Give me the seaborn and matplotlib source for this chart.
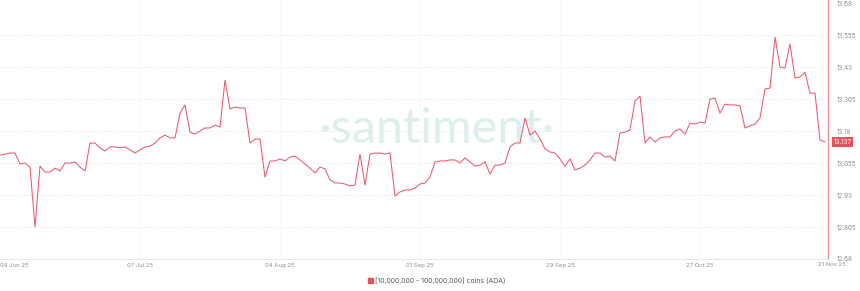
import matplotlib
matplotlib.use("Agg")
import matplotlib.pyplot as plt
import seaborn as sns
import pandas as pd

# ---- data ----
start_date = "2025-06-09"
values = [
    13.086, 13.090, 13.094, 13.094, 13.051, 13.055, 13.039, 12.805, 13.043, 13.020,
    13.020, 13.035, 13.024, 13.055, 13.055, 13.059, 13.039, 13.024, 13.133, 13.133,
    13.114, 13.102, 13.118, 13.118, 13.114, 13.118, 13.106, 13.094, 13.106, 13.118,
    13.121, 13.133, 13.153, 13.164, 13.153, 13.153, 13.250, 13.282, 13.176, 13.168,
    13.180, 13.192, 13.192, 13.203, 13.196, 13.379, 13.266, 13.274, 13.270, 13.270,
    13.133, 13.149, 13.149, 13.000, 13.063, 13.063, 13.071, 13.063, 13.078, 13.082,
    13.067, 13.051, 13.035, 13.016, 13.039, 13.032, 12.989, 12.977, 12.977, 12.973,
    12.965, 12.969, 13.090, 12.969, 13.090, 13.094, 13.094, 13.090, 13.094, 12.926,
    12.942, 12.950, 12.950, 12.957, 12.973, 12.977, 13.000, 13.059, 13.063, 13.063,
    13.067, 13.067, 13.055, 13.075, 13.059, 13.043, 13.047, 13.059, 13.012, 13.047,
    13.047, 13.055, 13.118, 13.133, 13.133, 13.231, 13.164, 13.180, 13.149, 13.110,
    13.098, 13.094, 13.071, 13.043, 13.071, 13.028, 13.035, 13.047, 13.067, 13.094,
    13.094, 13.078, 13.082, 13.063, 13.172, 13.176, 13.184, 13.297, 13.317, 13.133,
    13.157, 13.137, 13.153, 13.157, 13.157, 13.180, 13.188, 13.168, 13.211, 13.207,
    13.215, 13.211, 13.305, 13.309, 13.250, 13.285, 13.282, 13.282, 13.278, 13.192,
    13.200, 13.207, 13.231, 13.344, 13.348, 13.547, 13.430, 13.426, 13.520, 13.387,
    13.391, 13.410, 13.328, 13.328, 13.145, 13.137,
]
ytick_values = [12.68, 12.805, 12.93, 13.055, 13.18, 13.305, 13.43, 13.555, 13.68]
ytick_labels = ["12.68", "12.805", "12.93", "13.055", "13.18", "13.305", "13.43", "13.555", "13.68"]
xtick_dates = ["2025-06-09", "2025-07-07", "2025-08-04", "2025-09-01", "2025-09-29", "2025-10-27"]
xtick_labels = ["09 Jun 25", "07 Jul 25", "04 Aug 25", "01 Sep 25", "29 Sep 25", "27 Oct 25"]
end_label = "21 Nov 25"
series_label = "[10,000,000 - 100,000,000] coins (ADA)"
current_label = "13.137"

dates = pd.date_range(start_date, periods=len(values), freq="D")
df = pd.DataFrame({"date": dates, "value": values})

LINE = "#ea5a70"
GRID = "#e6e9ec"
TXT = "#8a9099"

sns.set_theme(style="white")
plt.rcParams["font.family"] = ["Inter", "DejaVu Sans"]

fig = plt.figure(figsize=(8.6, 2.91), dpi=100)
ax = fig.add_axes([0.0, 0.11, 828 / 860, 0.89])

# watermark
ax.text(0.527, 0.50, "\u00b7santiment\u00b7", transform=ax.transAxes, fontsize=35,
        color="#dcefec", ha="center", va="center", fontweight="normal", zorder=0,
        family=["Lato", "DejaVu Sans"])

sns.lineplot(data=df, x="date", y="value", ax=ax, color=LINE, linewidth=0.75)

x0 = dates[0]
ax.set_xlim(x0, x0 + pd.Timedelta(days=165.6))
ax.set_ylim(12.68, 13.692)

ax.set_yticks(ytick_values)
ax.set_yticklabels(ytick_labels)
ax.yaxis.tick_right()
ax.tick_params(axis="y", labelsize=4.5, colors=TXT, length=0, pad=6)

xt = [pd.Timestamp(d) for d in xtick_dates]
ax.set_xticks(xt)
ax.set_xticklabels(xtick_labels)
ax.tick_params(axis="x", labelsize=4.3, colors=TXT, length=0, pad=3)
ax.get_xticklabels()[0].set_horizontalalignment("left")

ax.set_xlabel("")
ax.set_ylabel("")

for y in ytick_values[1:-1]:
    ax.axhline(y, color=GRID, linewidth=0.6, linestyle=(0, (2, 2)), zorder=0)
for d in xt[1:]:
    ax.axvline(d, color="#eef2f4", linewidth=0.6, linestyle=(0, (2, 2)), zorder=0)

for s in ["top", "left"]:
    ax.spines[s].set_visible(False)
ax.spines["right"].set_color("#ef8c92")
ax.spines["right"].set_linewidth(0.9)
ax.spines["bottom"].set_color("#e6e9ec")
ax.spines["bottom"].set_linewidth(0.7)

# end date label
fig.text(832 / 860, 1 - 264 / 291, end_label, fontsize=4.3, color=TXT, ha="center", va="center")

# current value badge
ax.annotate(current_label, xy=(1.0, values[-1]), xycoords=("axes fraction", "data"),
            xytext=(4, 0), textcoords="offset points", fontsize=4.5, color="white",
            ha="left", va="center",
            bbox=dict(boxstyle="square,pad=0.25", fc="#e8505b", ec="none"),
            annotation_clip=False)

# legend
fig.patches.append(plt.Rectangle((368 / 860, 1 - 283 / 291), 5 / 860, 5 / 291,
                                 transform=fig.transFigure, color="#e8505b"))
fig.text(375 / 860, 1 - 280.5 / 291, series_label, fontsize=5, color="#555b63",
         ha="left", va="center")

fig.savefig("out.png", dpi=100, facecolor="white")
